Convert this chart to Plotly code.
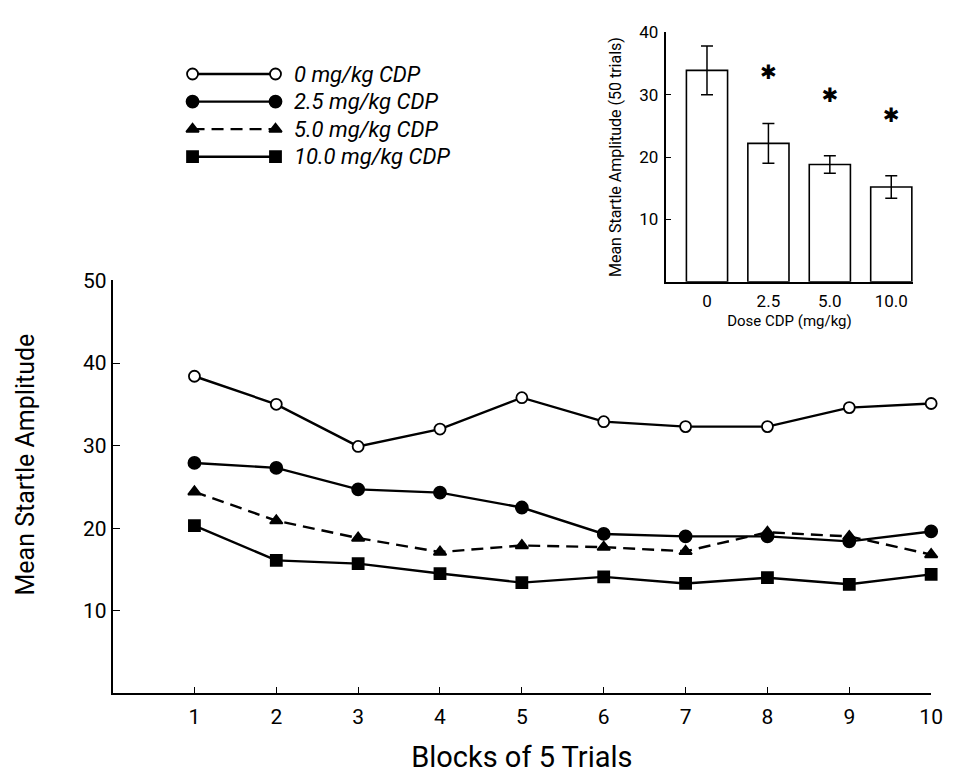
import plotly.graph_objects as go

# ---------------- data ----------------
blocks = [1, 2, 3, 4, 5, 6, 7, 8, 9, 10]
series_names = ["0 mg/kg CDP", "2.5 mg/kg CDP", "5.0 mg/kg CDP", "10.0 mg/kg CDP"]
amp_0 = [38.4, 35.0, 29.9, 32.0, 35.8, 32.9, 32.3, 32.3, 34.6, 35.1]
amp_25 = [27.9, 27.3, 24.7, 24.3, 22.5, 19.3, 19.0, 19.0, 18.4, 19.6]
amp_50 = [24.4, 20.9, 18.8, 17.1, 17.9, 17.7, 17.2, 19.5, 19.0, 16.8]
amp_100 = [20.3, 16.1, 15.7, 14.5, 13.4, 14.1, 13.3, 14.0, 13.2, 14.4]

main_yticks = [10, 20, 30, 40, 50]

doses = ["0", "2.5", "5.0", "10.0"]
dose_mean = [33.9, 22.2, 18.8, 15.2]
dose_sem = [3.9, 3.2, 1.4, 1.8]
sig_marks = ["", "✱", "✱", "✱"]
sig_height = [None, 33.3, 29.7, 26.4]
inset_yticks = [10, 20, 30, 40]

# ---------------- style ----------------
FONT = "Roboto, Liberation Sans, sans-serif"
BLACK = "black"
styles = [
    dict(symbol="circle", size=11, fill="white", dash="solid"),
    dict(symbol="circle", size=12, fill=BLACK, dash="solid"),
    dict(symbol="triangle-up", size=11, fill=BLACK, dash="12px,7px"),
    dict(symbol="square", size=11, fill=BLACK, dash="solid"),
]
all_series = [amp_0, amp_25, amp_50, amp_100]

fig = go.Figure()

# main chart
for name, vals, st in zip(series_names, all_series, styles):
    fig.add_trace(go.Scatter(
        x=blocks, y=vals, mode="lines+markers", name=name,
        line=dict(color=BLACK, width=2.4, dash=st["dash"]),
        marker=dict(symbol=st["symbol"], size=st["size"], color=st["fill"],
                    line=dict(color=BLACK, width=1.8)),
        xaxis="x", yaxis="y", showlegend=False, cliponaxis=False,
    ))

# inset bars
inset_x = list(range(len(doses)))
fig.add_trace(go.Bar(
    x=inset_x, y=dose_mean, width=0.67,
    marker=dict(color="white", line=dict(color=BLACK, width=1.6)),
    error_y=dict(type="data", array=dose_sem, color=BLACK, thickness=1.5, width=6),
    xaxis="x2", yaxis="y2", showlegend=False,
))
fig.add_trace(go.Scatter(
    x=inset_x, y=sig_height, mode="text", text=sig_marks,
    textfont=dict(family="DejaVu Sans", size=20, color=BLACK),
    xaxis="x2", yaxis="y2", showlegend=False, cliponaxis=False,
))

# custom legend (line sample with markers on both ends)
for i, (name, st) in enumerate(zip(series_names, styles)):
    fig.add_trace(go.Scatter(
        x=[0, 1], y=[i, i], mode="lines+markers",
        line=dict(color=BLACK, width=2.4, dash=st["dash"]),
        marker=dict(symbol=st["symbol"], size=st["size"], color=st["fill"],
                    line=dict(color=BLACK, width=1.8)),
        xaxis="x3", yaxis="y3", showlegend=False, cliponaxis=False, hoverinfo="skip",
    ))
    fig.add_annotation(x=1, y=i, xref="x3", yref="y3", text="<i>" + name + "</i>",
                       showarrow=False, xanchor="left", yanchor="middle", xshift=17,
                       font=dict(family=FONT, size=22, color=BLACK))

# main y-axis title (placed a little above the axis centre, as in the original)
fig.add_annotation(x=26 / 955, y=1 - 460 / 774, xref="paper", yref="paper",
                   text="Mean Startle Amplitude", textangle=-90, showarrow=False,
                   xanchor="center", yanchor="middle", font=dict(family=FONT, size=25, color=BLACK))

axis_common = dict(showgrid=False, zeroline=False, showline=True, linecolor=BLACK,
                   linewidth=1.6, tickcolor=BLACK, tickwidth=1.3)

fig.update_layout(
    width=955, height=774,
    margin=dict(l=0, r=0, t=0, b=0),
    paper_bgcolor="white", plot_bgcolor="white",
    font=dict(family=FONT, color=BLACK),
    xaxis=dict(domain=[114 / 955, 943 / 955], range=[0, 10], tickvals=blocks,
               ticks="inside", ticklen=6, ticklabelstandoff=4,
               tickfont=dict(size=21),
               title=dict(text="Blocks of 5 Trials", font=dict(size=29), standoff=22),
               anchor="y", **axis_common),
    yaxis=dict(domain=[1 - 692 / 774, 1 - 272.7 / 774], range=[0, 50], tickvals=main_yticks,
               ticks="inside", ticklen=8, ticklabelstandoff=0,
               tickfont=dict(size=21),
               anchor="x", **axis_common),
    xaxis2=dict(domain=[674 / 955, 925 / 955], range=[-0.675, 3.36], tickvals=inset_x, ticktext=doses,
                ticks="", ticklabelstandoff=3, tickfont=dict(size=17),
                title=dict(text="Dose CDP (mg/kg)", font=dict(size=15), standoff=6),
                anchor="y2", **axis_common),
    yaxis2=dict(domain=[1 - 274 / 774, 1 - 20.7 / 774], range=[0, 40], tickvals=inset_yticks,
                ticks="inside", ticklen=6, ticklabelstandoff=2, tickfont=dict(size=17),
                title=dict(text="Mean Startle Amplitude (50 trials)", font=dict(size=16), standoff=14),
                anchor="x2", **axis_common),
    xaxis3=dict(domain=[186.6 / 955, 287.4 / 955], range=[-0.1, 1.1], visible=False, anchor="y3"),
    yaxis3=dict(domain=[1 - 155.4 / 774, 1 - 54.6 / 774], range=[3.3, -0.3], visible=False, anchor="x3"),
)

fig.write_html("out.html", config={"displayModeBar": False},
               post_script="document.body.style.margin='0px';")
